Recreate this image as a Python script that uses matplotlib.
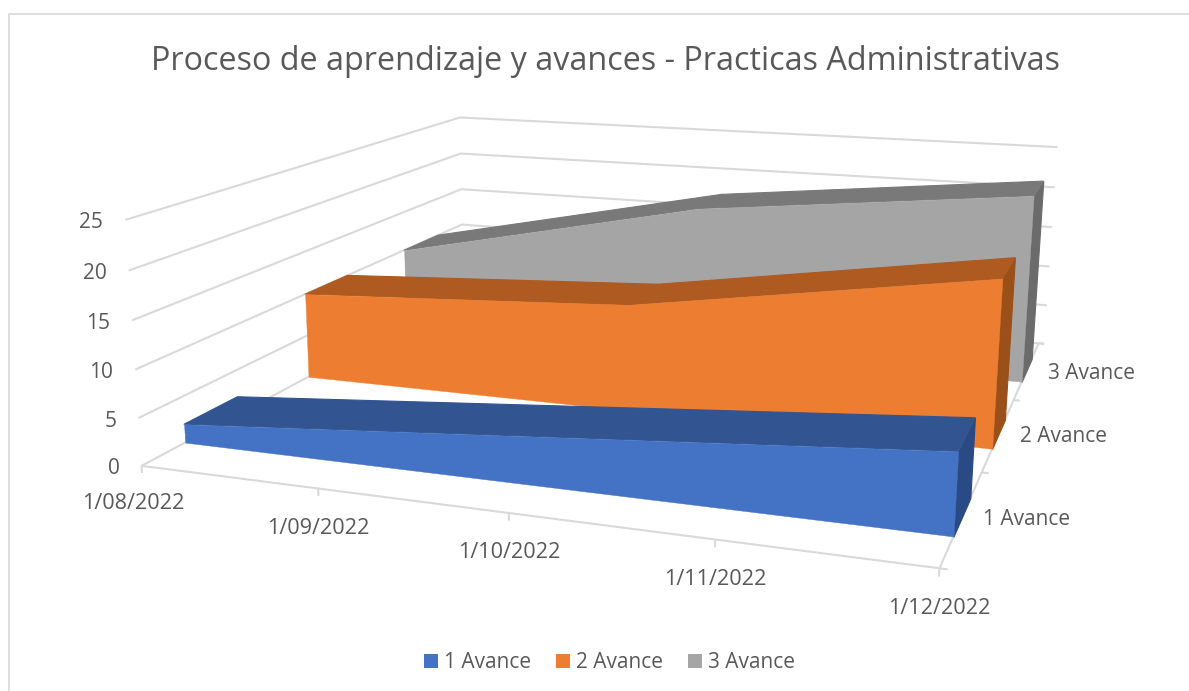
import numpy as np
from matplotlib import pyplot as plt
from matplotlib.lines import Line2D
from matplotlib.patches import Patch
from mpl_toolkits.mplot3d import proj3d
from mpl_toolkits.mplot3d.art3d import Poly3DCollection

W, H = 1189, 691

dates = ["1/08/2022", "1/09/2022", "1/10/2022", "1/11/2022", "1/12/2022"]
data_months = [0, 2, 4]
series_names = ["1 Avance", "2 Avance", "3 Avance"]
avance_1 = [2, 5, 8]
avance_2 = [10, 12, 18]
avance_3 = [10, 18, 22]
value_ticks = [0, 5, 10, 15, 20, 25]

face_colors = ["#4472C4", "#ED7D31", "#A5A5A5"]
top_colors = ["#325591", "#AE5A21", "#797979"]
side_colors = ["#2A4A85", "#9C5019", "#6B6B6B"]
grid_color = "#D9D9D9"
text_color = "#595959"

# camera calibration: (month, depth, value) -> picture pixel, Excel's 3d view
calib_3d = [(0, 0, 0), (1, 0, 0), (2, 0, 0), (3, 0, 0), (4, 0, 0),
            (4, 1, 0), (4, 2, 0), (4, 3, 0), (0, 3, 0),
            (0, 3, 10), (0, 3, 20), (0, 3, 25),
            (0, 0, 5), (0, 0, 10), (0, 0, 15), (0, 0, 20), (0, 0, 25),
            (4, 3, 25)]
calib_px = [(143, 465), (318, 488), (509, 513), (715, 541), (939, 568),
            (982, 472), (1015, 400), (1038, 343), (462, 296),
            (462, 224), (461, 153), (461, 117),
            (138, 417), (135, 369), (132, 321), (128, 271), (125, 221),
            (1051, 147)]


def fit_camera(pts, px):
    rows = []
    for (x, y, z), (u, v) in zip(pts, px):
        rows.append([x, y, z, 1, 0, 0, 0, 0, -u * x, -u * y, -u * z, -u])
        rows.append([0, 0, 0, 0, x, y, z, 1, -v * x, -v * y, -v * z, -v])
    return np.linalg.svd(np.array(rows, float))[2][-1].reshape(3, 4)


plt.rcParams['font.family'] = ['Open Sans', 'DejaVu Sans']
fig = plt.figure(figsize=(W / 100, H / 100), dpi=100)
ax = fig.add_axes([0, (1 - W / H) / 2, 1, W / H], projection='3d', computed_zorder=False)
ax.set_axis_off()
ax.patch.set_alpha(0)
ax.apply_aspect()

# pixels (y down) -> the 2d view coordinates of the 3d axes
flip = np.array([[1, 0, 0], [0, -1, H], [0, 0, 1]], float)
cam = ax.transData.inverted().get_matrix() @ flip @ fit_camera(calib_3d, calib_px)
M = np.array([cam[0], cam[1], [0, 1, 0, 0], cam[2]])
ax.get_proj = lambda: M
ax.M = M


def line(xs, ys, zs, lw=1.5):
    ax.plot(xs, ys, zs, color=grid_color, lw=lw, zorder=1, solid_capstyle='butt')


def label(txt, x, y, z, dx, dy, ha='center', size=15):
    vx, vy, _ = proj3d.proj_transform(x, y, z, M)
    ax.annotate(txt, (vx, vy), xytext=(dx, dy), textcoords='offset pixels',
                ha=ha, va='center', color=text_color, fontsize=size, annotation_clip=False)


# walls and floor
for v in value_ticks:
    line([0, 0, 4.035], [0, 3, 3], [v, v, v])
line([0, 4], [0, 0], [0, 0])
line([4, 4], [0, 3], [0, 0])
for i in range(len(dates)):
    line([i, i], [0, 0], [0, -0.75])
for d in range(4):
    line([4, 4.035], [d, d], [0, 0])

# the three extruded areas, back one first
front, back = 0.3, 0.7
for i, vals in reversed(list(enumerate([avance_1, avance_2, avance_3]))):
    y0, y1 = i + front, i + back
    z_order = 10 + (2 - i) * 10
    outline = [(m, y0, v) for m, v in zip(data_months, vals)]
    outline += [(data_months[-1], y0, 0), (data_months[0], y0, 0)]
    tops = []
    for k in range(len(vals) - 1):
        a, b = data_months[k], data_months[k + 1]
        tops.append([(a, y0, vals[k]), (b, y0, vals[k + 1]),
                     (b, y1, vals[k + 1]), (a, y1, vals[k])])
    side = [(4, y0, 0), (4, y0, vals[-1]), (4, y1, vals[-1]), (4, y1, 0)]
    ax.add_collection3d(Poly3DCollection([side], facecolors=side_colors[i], edgecolors=side_colors[i],
                                         linewidths=0.8, zorder=z_order), autolim=False)
    ax.add_collection3d(Poly3DCollection(tops, facecolors=top_colors[i], edgecolors=top_colors[i],
                                         linewidths=0.8, zorder=z_order + 1), autolim=False)
    ax.add_collection3d(Poly3DCollection([outline], facecolors=face_colors[i], edgecolors=face_colors[i],
                                         linewidths=0.3, zorder=z_order + 2), autolim=False)

# axis labels
for v in value_ticks:
    label(str(v), 0, 0, v, -22, -3, ha='right')
for i, d in enumerate(dates):
    label(d, i, 0, 0, -8 if i == 0 else 0, -38 if i == 0 else -40, size=15.6)
for i, name in enumerate(series_names):
    label(name, 4, i + 0.5, 0, 21, -3, ha='left')

fig.text(605.5 / W, 1 - 62 / H, "Proceso de aprendizaje y avances - Practicas Administrativas",
         ha='center', va='center', color=text_color, fontsize=23.3)

handles = [Patch(facecolor=c, label=n) for c, n in zip(face_colors, series_names)]
fig.legend(handles=handles, loc='center', bbox_to_anchor=(609.5 / W, 1 - 663 / H), ncol=3, frameon=False,
           fontsize=15, labelcolor=text_color, handlelength=0.67, handleheight=0.67,
           handletextpad=0.29, columnspacing=1.2, borderpad=0)

# chart border, only top and left are inside the crop
fig.add_artist(Line2D([9 / W, 9 / W, 1], [0, 1 - 14 / H, 1 - 14 / H], color="#DEDEDE", lw=1.45))

fig.savefig("out.png", dpi=100)
